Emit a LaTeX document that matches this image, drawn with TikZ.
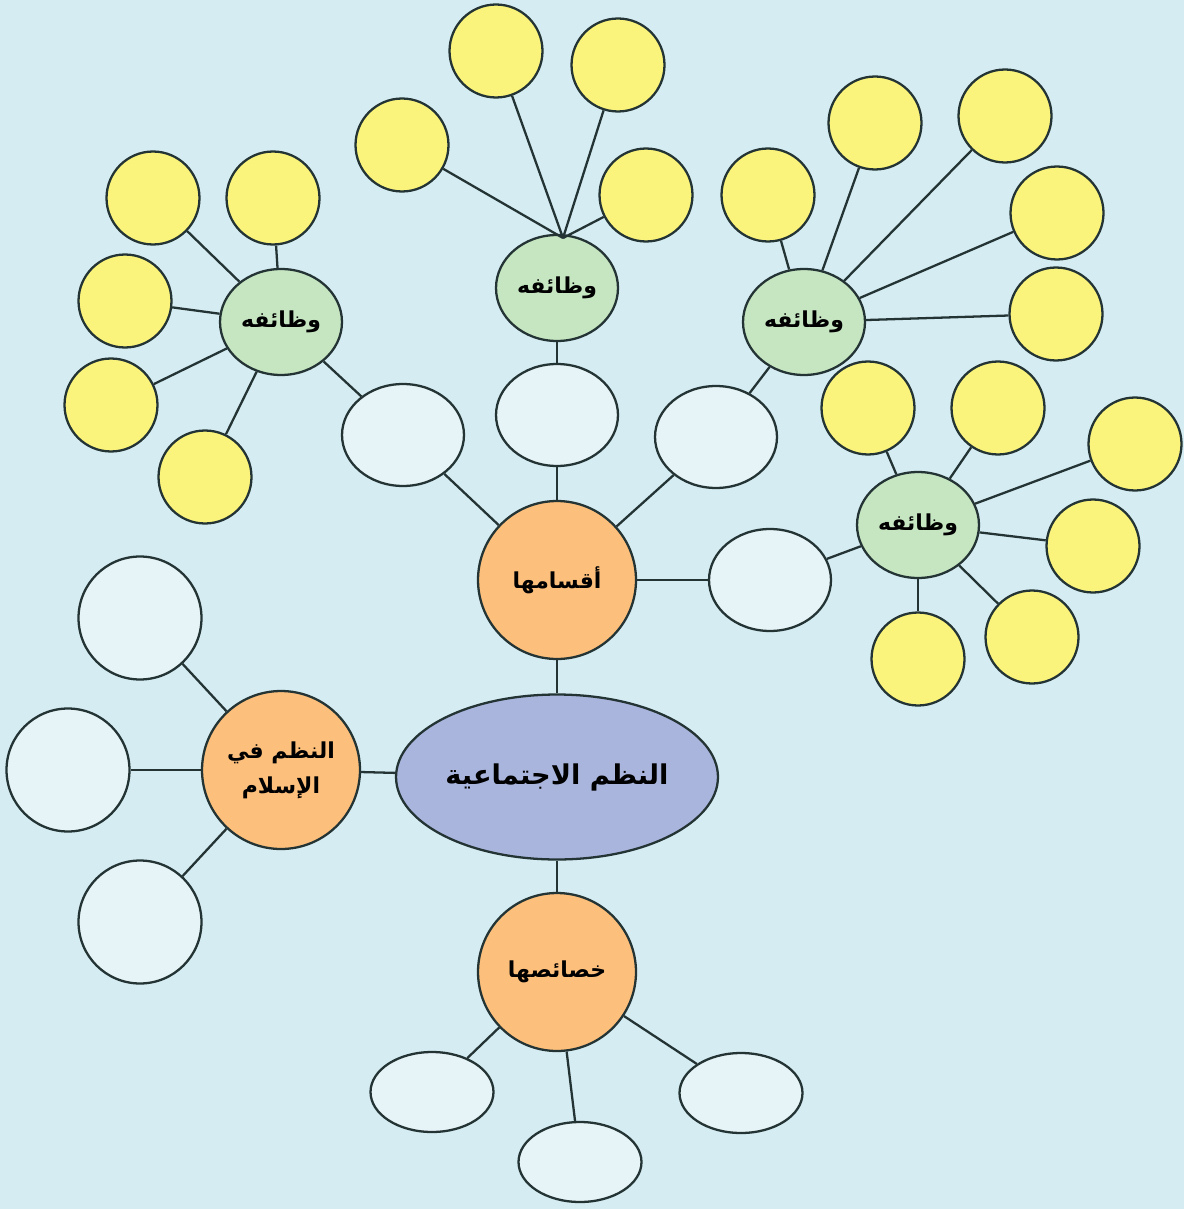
\documentclass[tikz,border=0pt]{standalone}
\usepackage{fontspec}
\newfontfamily\arabicfont[Script=Arabic]{DejaVu Sans}
\TeXXeTstate=1
\usepackage{xcolor}
\definecolor{bgblue}{HTML}{D5ECF3}
\definecolor{linegray}{HTML}{243434}
\definecolor{mainblue}{HTML}{A9B5DD}
\definecolor{orangefill}{HTML}{FCBF7C}
\definecolor{greenfill}{HTML}{C6E6C2}
\definecolor{yellowfill}{HTML}{FBF47C}
\definecolor{whitefill}{HTML}{E6F3F7}
\usetikzlibrary{shapes.geometric}

\tikzset{
  base/.style={draw=linegray, line width=1.3pt, inner sep=0pt,
    font=\arabicfont\bfseries\fontsize{12.5}{20}\selectfont},
  topic/.style={base, ellipse, fill=mainblue, minimum width=6.44cm, minimum height=3.3cm,
    font=\arabicfont\bfseries\fontsize{15.5}{20}\selectfont},
  branch/.style={base, circle, fill=orangefill, minimum size=3.16cm},
  duty/.style={base, ellipse, fill=greenfill, minimum width=2.44cm, minimum height=2.12cm},
  dot/.style={base, circle, fill=yellowfill, minimum size=1.86cm},
  blank/.style={base, ellipse, fill=whitefill, minimum width=2.44cm, minimum height=2.04cm},
  blankround/.style={base, circle, fill=whitefill, minimum size=2.46cm},
  blankflat/.style={base, ellipse, fill=whitefill, minimum width=2.46cm, minimum height=1.6cm},
  link/.style={draw=linegray, line width=1.3pt}
}

\begin{document}
\begin{tikzpicture}[x=0.02cm, y=-0.02cm]
\fill[bgblue] (0,0) rectangle (1184,1209);
\useasboundingbox (0,0) rectangle (1184,1209);

% centre and the three branches
\node (main) at (557,777) [topic] {\beginR النظم الاجتماعية\endR};
\node (parts) at (557,580) [branch] {\beginR أقسامها\endR};
\node (islam) at (281,770) [branch, align=center] {\beginR النظم في\endR\\\beginR الإسلام\endR};
\node (traits) at (557,972) [branch] {\beginR خصائصها\endR};

% parts
\node (pa) at (403,435) [blank] {};
\node (pb) at (557,415) [blank] {};
\node (pc) at (716,437) [blank] {};
\node (pd) at (770,580) [blank] {};

% duties
\node (ga) at (281,322) [duty] {\beginR وظائفه\endR};
\node (gb) at (557,288) [duty] {\beginR وظائفه\endR};
\node (gc) at (804,322) [duty] {\beginR وظائفه\endR};
\node (gd) at (918,525) [duty] {\beginR وظائفه\endR};
\coordinate (gbtop) at (563,238);

% yellow leaves
\node (ya1) at (153,198) [dot] {};
\node (ya2) at (273,198) [dot] {};
\node (ya3) at (125,301) [dot] {};
\node (ya4) at (111,405) [dot] {};
\node (ya5) at (205,477) [dot] {};

\node (yb1) at (402,145) [dot] {};
\node (yb2) at (496,51) [dot] {};
\node (yb3) at (618,65) [dot] {};
\node (yb4) at (646,195) [dot] {};

\node (yc1) at (768,195) [dot] {};
\node (yc2) at (875,123) [dot] {};
\node (yc3) at (1005,116) [dot] {};
\node (yc4) at (1057,213) [dot] {};
\node (yc5) at (1056,314) [dot] {};

\node (yd1) at (868,408) [dot] {};
\node (yd2) at (998,408) [dot] {};
\node (yd3) at (1135,444) [dot] {};
\node (yd4) at (1093,546) [dot] {};
\node (yd5) at (1032,637) [dot] {};
\node (yd6) at (918,659) [dot] {};

% islam and traits leaves
\node (ia) at (140,618) [blankround] {};
\node (ib) at (68,770) [blankround] {};
\node (ic) at (140,922) [blankround] {};
\node (ta) at (432,1092) [blankflat] {};
\node (tb) at (580,1162) [blankflat] {};
\node (tc) at (741,1093) [blankflat] {};

% connectors
\path[link] (main) -- (parts);
\path[link] (main) -- (islam);
\path[link] (main) -- (traits);
\path[link] (parts) -- (pa);
\path[link] (parts) -- (pb);
\path[link] (parts) -- (pc);
\path[link] (parts) -- (pd);
\path[link] (pa) -- (ga);
\path[link] (pb) -- (gb);
\path[link] (pc) -- (gc);
\path[link] (pd) -- (gd);
\path[link] (ga) -- (ya1);
\path[link] (ga) -- (ya2);
\path[link] (ga) -- (ya3);
\path[link] (ga) -- (ya4);
\path[link] (ga) -- (ya5);
\path[link] (gbtop) -- (yb1);
\path[link] (gbtop) -- (yb2);
\path[link] (gbtop) -- (yb3);
\path[link] (gbtop) -- (yb4);
\path[link] (gc) -- (yc1);
\path[link] (gc) -- (yc2);
\path[link] (gc) -- (yc3);
\path[link] (gc) -- (yc4);
\path[link] (gc) -- (yc5);
\path[link] (gd) -- (yd1);
\path[link] (gd) -- (yd2);
\path[link] (gd) -- (yd3);
\path[link] (gd) -- (yd4);
\path[link] (gd) -- (yd5);
\path[link] (gd) -- (yd6);
\path[link] (islam) -- (ia);
\path[link] (islam) -- (ib);
\path[link] (islam) -- (ic);
\path[link] (traits) -- (ta);
\path[link] (traits) -- (tb);
\path[link] (traits) -- (tc);
\end{tikzpicture}
\end{document}
